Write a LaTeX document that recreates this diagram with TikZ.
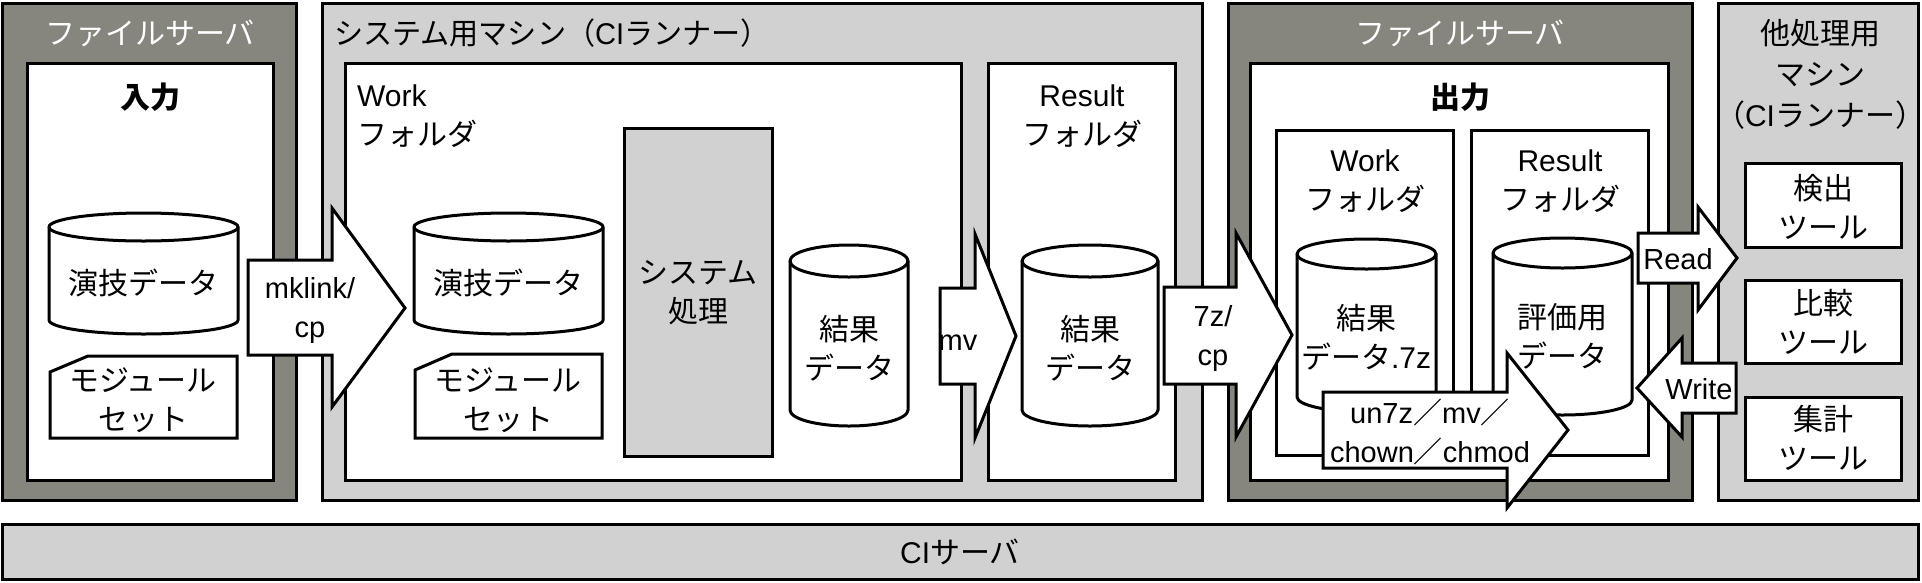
\documentclass[tikz,border=0pt]{standalone}
\usepackage{fontspec}
\setmainfont{Liberation Sans}
\newfontfamily\jp{Noto Sans CJK JP}
\definecolor{fsgray}{RGB}{134,134,126}
\definecolor{lgray}{RGB}{209,209,209}
% cylinder: x1, x2, y top-ellipse centre, y bottom-ellipse centre, y radius
\newcommand\mycyl[5]{%
  \pgfmathsetmacro\cylrx{(#2-#1)/2}%
  \filldraw[frm,fill=white] (#1,#3) -- (#1,#4)
     arc[start angle=180,end angle=360,x radius=\cylrx pt,y radius=#5pt]
     -- (#2,#3)
     arc[start angle=0,end angle=180,x radius=\cylrx pt,y radius=#5pt] -- cycle;
  \draw[frm] (#1,#3) arc[start angle=180,end angle=360,x radius=\cylrx pt,y radius=#5pt];
}
% card with cut corner: x1, x2, y1, y2, ycut, xcut
\newcommand\mycard[6]{%
  \filldraw[frm,fill=white] (#1,#5) -- (#6,#3) -- (#2,#3) -- (#2,#4) -- (#1,#4) -- cycle;
}
% right block arrow: xl, xh, tip, body top, body bottom, head top, head bottom, tip y
\newcommand\rarrow[8]{%
  \filldraw[frm,fill=white] (#1,#4) -- (#2,#4) -- (#2,#6) -- (#3,#8) -- (#2,#7) -- (#2,#5) -- (#1,#5) -- cycle;
}
\begin{document}
\begin{tikzpicture}[x=1pt,y=-1pt,
  frm/.style={draw=black,line width=3pt,line join=miter},
  txt/.style={font=\fontsize{30}{39}\selectfont,inner sep=0pt,align=center},
  ltxt/.style={txt,font=\fontsize{29}{39}\selectfont},
  wtxt/.style={txt,text=white},
]
\useasboundingbox (0,0) rectangle (1922,582);

% ---------- left file server ----------
\filldraw[frm,fill=fsgray] (2,3) rectangle (296,500);
\filldraw[frm,fill=white] (27,63) rectangle (273,480);
\node[wtxt] (fs1title) at (150,33) {\jp ファイルサーバ};
\node[txt] (input) at (150,97) {\jp\bfseries 入力};
\mycyl{49}{238}{227}{320}{14}
\node[txt] (cylA) at (143,283) {\jp 演技データ};
\mycard{50}{237}{356}{438}{372}{88}
\node[txt] (modA) at (143,400) {\jp モジュール\\\jp セット};

% ---------- system machine ----------
\filldraw[frm,fill=lgray] (322,3) rectangle (1202,500);
\node[txt,anchor=west,xscale=0.97] (smtitle) at (334,33) {\jp システム用マシン（{\rmfamily CI}ランナー）};
\filldraw[frm,fill=white] (345,63) rectangle (961,480);
\node[txt,anchor=west,align=left] (workA) at (357,116) {Work\\\jp フォルダ};
\filldraw[frm,fill=lgray] (624,128) rectangle (772,456);
\node[txt] (sys) at (698,293) {\jp システム\\\jp 処理};
\mycyl{414}{603}{227}{320}{14}
\node[txt] (cylB) at (508,283) {\jp 演技データ};
\mycard{415}{602}{354}{438}{370}{452}
\node[txt] (modB) at (508,400) {\jp モジュール\\\jp セット};
\mycyl{790}{908}{261}{410}{16}
\node[txt] (resA) at (849,348) {\jp 結果\\\jp データ};

\filldraw[frm,fill=white] (988,63) rectangle (1175,480);
\node[txt] (resfA) at (1082,116) {Result\\\jp フォルダ};
\mycyl{1022}{1158}{261}{410}{16}
\node[txt] (resB) at (1090,348) {\jp 結果\\\jp データ};

% ---------- right file server ----------
\filldraw[frm,fill=fsgray] (1228,3) rectangle (1692,500);
\filldraw[frm,fill=white] (1250,63) rectangle (1668,480);
\node[wtxt] (fs2title) at (1460,33) {\jp ファイルサーバ};
\node[txt] (output) at (1460,97) {\jp\bfseries 出力};
\filldraw[frm,fill=white] (1276,130) rectangle (1453,455);
\node[txt] (workB) at (1365,181) {Work\\\jp フォルダ};
\filldraw[frm,fill=white] (1471,130) rectangle (1648,455);
\node[txt] (resfB) at (1560,181) {Result\\\jp フォルダ};
\mycyl{1297}{1436}{254}{397}{15}
\node[txt] (res7z) at (1366,337) {\jp 結果\\{\jp データ}.7z};
\mycyl{1493}{1632}{253}{400}{15}
\node[txt] (evald) at (1562,336) {\jp 評価用\\\jp データ};

% ---------- other machine ----------
\filldraw[frm,fill=lgray] (1718,3) rectangle (1918,500);
\node[txt,font=\fontsize{30}{41}\selectfont] (omtitle) at (1820,74) {\jp 他処理用\\\jp マシン\\{\jp （}CI{\jp ランナー）}};
\filldraw[frm,fill=white] (1745,163) rectangle (1901,247);
\node[txt] (tool1) at (1823,207) {\jp 検出\\\jp ツール};
\filldraw[frm,fill=white] (1745,280) rectangle (1901,363);
\node[txt] (tool2) at (1823,322) {\jp 比較\\\jp ツール};
\filldraw[frm,fill=white] (1745,397) rectangle (1901,480);
\node[txt] (tool3) at (1823,438) {\jp 集計\\\jp ツール};

% ---------- CI server ----------
\filldraw[frm,fill=lgray] (2,524) rectangle (1918,579);
\node[txt] (ci) at (960,552) {CI{\jp サーバ}};

% ---------- block arrows ----------
\rarrow{248}{332}{405}{260}{355}{208}{407}{308}
\node[ltxt] (mklink) at (310,310) {mklink/\\cp};
\rarrow{940}{975}{1016}{288}{384}{234}{438}{336}
\node[ltxt] (mv) at (958,343) {mv};
\rarrow{1164}{1236}{1292}{287}{384}{233}{437}{335}
\node[ltxt] (zcp) at (1213,338) {7z/\\cp};
\rarrow{1323}{1507}{1568}{392}{468}{353}{508}{430}
\node[ltxt] (un7z) at (1430,432) {un7z{\jp ／}mv{\jp ／}\\chown{\jp ／}chmod};
\rarrow{1638}{1698}{1737}{233}{283}{207}{310}{258}
\node[ltxt] (read) at (1678,259) {Read};
% left-pointing Write arrow
\filldraw[frm,fill=white] (1736,363) -- (1682,363) -- (1682,338) -- (1637,388) -- (1682,437) -- (1682,413) -- (1736,413) -- cycle;
\node[ltxt] (write) at (1699,389) {Write};
\end{tikzpicture}
\end{document}
